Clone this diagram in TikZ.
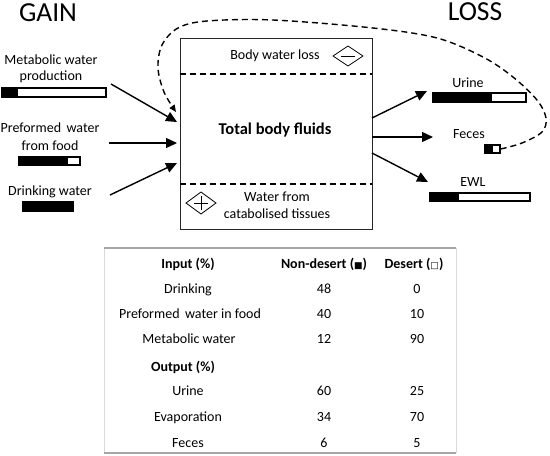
\documentclass[tikz,border=0pt]{standalone}
\usepackage{fontspec}
\setmainfont{Carlito}
\newfontfamily\symfont{DejaVu Sans}
\usetikzlibrary{arrows.meta}
\tikzset{
  lbl/.style={font=\fontsize{14}{16.5}\selectfont, align=center, inner sep=0pt},
  big/.style={font=\fontsize{27.5}{30}\selectfont, inner sep=0pt},
  arr/.style={line width=1.4pt, -{Triangle[length=11pt,width=10pt]}},
  barbox/.style={draw=black, line width=1.4pt, fill=white, inner sep=0pt, rectangle},
  sep/.style={line width=1.3pt, dash pattern=on 6pt off 4pt},
  tcell/.style={font=\fontsize{14}{16}\selectfont, inner sep=0pt, anchor=base},
  thead/.style={tcell, font=\fontsize{14}{16}\selectfont\bfseries},
  rule/.style={draw=gray!70, line width=1.4pt},
  diam/.style={line width=0.8pt}
}
\begin{document}
\begin{tikzpicture}[x=1pt,y=-1pt]
\useasboundingbox (0,0) rectangle (550,456);

% titles
\node[big] (gain) at (48,13) {GAIN};
\node[big] (loss) at (475,12) {LOSS};

% main box
\node[draw=black!85, line width=0.8pt, minimum width=192pt, minimum height=191pt, inner sep=0pt] (box) at (276,133.5) {};
\draw[sep] (box.west |- 0,74) -- (box.east |- 0,74);
\draw[sep] (box.west |- 0,184) -- (box.east |- 0,184);
\node[lbl] (bwl) at (275,56) {Body water loss};
\draw[diam] (333,56) -- (348,46) -- (363,56) -- (348,66) -- cycle;
\draw[diam] (341,56) -- (355,56);
\node[lbl, font=\fontsize{16.5}{18}\selectfont\bfseries] (tbf) at (275,130) {Total body fluids};
\draw[diam] (186,203) -- (201,192) -- (216,203) -- (201,214) -- cycle;
\draw[diam] (194,203) -- (208,203);
\draw[diam] (201,196) -- (201,210);
\node[lbl] (cat) at (277,205) {Water from\\catabolised tissues};

% gain side
\node[lbl] (metab) at (51,69) {Metabolic water\\production};
\node[barbox, minimum width=104pt, minimum height=9pt] (mbar) at (54,92.5) {};
\fill (2,88) rectangle (18,97);
\node[lbl, font=\fontsize{14}{18}\selectfont] (pref) at (50,137) {Preformed\, water\\from food};
\node[barbox, minimum width=61pt, minimum height=8pt] (pbar) at (49.5,161) {};
\fill (19,157) rectangle (68,165);
\node[lbl] (drink) at (50,192) {Drinking water};
\node[barbox, fill=black, minimum width=50pt, minimum height=9pt] (dbar) at (48,206.5) {};

\coordinate (s1) at (111,84);
\coordinate (s2) at (109,143);
\coordinate (s3) at (110,195);
\coordinate (t1) at (177,122);
\coordinate (t2) at (177,143);
\coordinate (t3) at (177,163);
\draw[arr] (s1) -- (t1);
\draw[arr] (s2) -- (t2);
\draw[arr] (s3) -- (t3);

% loss side
\node[lbl] (urine) at (468,83) {Urine};
\node[barbox, minimum width=93pt, minimum height=9pt] (ubar) at (479.5,97.5) {};
\fill (433,93) rectangle (492,102);
\node[lbl] (feces) at (469,134) {Feces};
\node[barbox, minimum width=15pt, minimum height=8pt] (fbar) at (492.5,149) {};
\fill (485,145) rectangle (493,153);
\node[lbl] (ewl) at (473,182) {EWL};
\node[barbox, minimum width=100pt, minimum height=8pt] (ebar) at (480,197) {};
\fill (430,193) rectangle (459,201);

\coordinate (r1) at (372,118);
\coordinate (r2) at (372,137);
\coordinate (r3) at (372,153);
\coordinate (u1) at (427,91);
\coordinate (u2) at (433,137);
\coordinate (u3) at (428,182);
\draw[arr] (r1) -- (u1);
\draw[arr] (r2) -- (u2);
\draw[arr] (r3) -- (u3);

% dashed feedback
\coordinate (fb) at (176,112);
\draw[line width=1.4pt, dash pattern=on 6pt off 4pt, -{Triangle[length=7pt,width=6pt]}]
  plot[smooth, tension=0.55] coordinates {(fbar.east) (522,143) (542,132) (546,118) (537,100) (513,77) (483,57) (437,38) (373,28) (273,20) (207,21) (178,28) (162,45) (158,68) (164,92) (fb)};

% table
\draw[draw=gray!30, line width=0.6pt] (104,248) -- (104,453);
\draw[draw=gray!30, line width=0.6pt] (456,248) -- (456,453);
\draw[rule] (104,248) -- (456,248);
\draw[rule] (104,453) -- (456,453);
\node[thead] (h1) at (188,268) {Input (\%)};
\node[thead] (h2) at (324,268) {Non-desert ({\symfont\fontsize{9}{10}\selectfont ■})};
\node[thead] (h3) at (414,268) {Desert ({\symfont\fontsize{9}{10}\selectfont □})};
\node[tcell] (c1) at (188,293) {Drinking};
\node[tcell] (c2) at (190,318) {Preformed\, water in food};
\node[tcell] (c3) at (189,343) {Metabolic water};
\node[thead] (c4) at (183,371) {Output (\%)};
\node[tcell] (c5) at (188,395) {Urine};
\node[tcell] (c6) at (188,421) {Evaporation};
\node[tcell] (c7) at (188,447) {Feces};
\node[tcell] (n1) at (324,293) {48};
\node[tcell] (n2) at (324,318) {40};
\node[tcell] (n3) at (324,343) {12};
\node[tcell] (n5) at (324,395) {60};
\node[tcell] (n6) at (324,421) {34};
\node[tcell] (n7) at (324,447) {6};
\node[tcell] (d1) at (417,293) {0};
\node[tcell] (d2) at (417,318) {10};
\node[tcell] (d3) at (417,343) {90};
\node[tcell] (d5) at (417,395) {25};
\node[tcell] (d6) at (417,421) {70};
\node[tcell] (d7) at (417,447) {5};
\end{tikzpicture}
\end{document}
